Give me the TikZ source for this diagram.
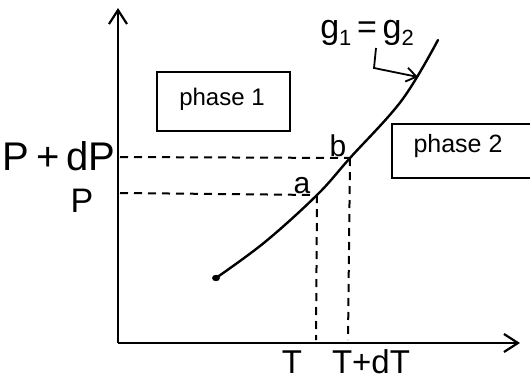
\documentclass[tikz,border=0pt]{standalone}
\usepackage{fontspec}
\setmainfont{Liberation Sans}
\usetikzlibrary{arrows.meta}
\tikzset{
  axis/.style={line width=2.2pt, -{Straight Barb[length=14pt,width=18pt,line width=2.2pt]}},
  guide/.style={line width=2pt, dash pattern=on 8pt off 6pt},
  curveline/.style={line width=2.4pt, line cap=round},
  boxline/.style={line width=1.8pt},
  lbl/.style={inner sep=0pt, font=\fontsize{#1}{#1}\selectfont},
}
\newcommand{\gsub}[1]{\raisebox{-7pt}{\fontsize{22pt}{22pt}\selectfont #1}}
\begin{document}
\begin{tikzpicture}[x=1pt,y=-1pt]
\useasboundingbox (0,0) rectangle (530,381);
% axes
\coordinate (O) at (118,343);
\coordinate (Ytop) at (118,8);
\coordinate (Xend) at (520,343);
\draw[axis] (O) -- (Ytop);
\draw[axis] (O) -- (Xend);
% points on the curve
\coordinate (a) at (317,195);
\coordinate (b) at (350,158);
\coordinate (start) at (216,278);
\coordinate (top) at (438,40);
% curve
\draw[curveline] plot[smooth, tension=0.6] coordinates {(216,278) (265,242) (317,195) (350,158) (402,100) (438,40)};
\fill (start) ellipse (4pt and 3.2pt);
% dashed guides
\coordinate (yP) at (120,193);
\coordinate (yPdP) at (120,157);
\coordinate (xT) at (316,340);
\coordinate (xTdT) at (348,340);
\draw[guide] (yPdP) -- (b);
\draw[guide] (yP) -- (a);
\draw[guide] (a) -- (xT);
\draw[guide] (b) -- (xTdT);
% axis labels
\node[lbl=40pt] (PdP) at (59,156) {P\,+\,dP};
\node[lbl=34pt] (P) at (82,201) {P};
\node[lbl=33pt] (T) at (292,362) {T};
\node[lbl=33pt] (TdT) at (371,362) {T+dT};
\node[lbl=30pt] (alab) at (302,186) {a};
\node[lbl=30pt] (blab) at (338,146) {b};
% phase boxes
\draw[boxline] (157,72) rectangle (290,131);
\node[lbl=24pt] (ph1) at (222,99) {phase 1};
\draw[boxline] (531,124) -- (392,124) -- (392,178) -- (531,178);
\node[lbl=25pt] (ph2) at (458,146) {phase 2};
% g1 = g2 label and arrow
\node[lbl=34pt] (g) at (367,33) {g\gsub{1}\,=\,g\gsub{2}};
\coordinate (gA) at (376,48);
\coordinate (gB) at (374,68);
\coordinate (gC) at (418,77);
\draw[line width=1.8pt, -{Straight Barb[length=10pt,width=14pt,line width=1.8pt]}] (gA) -- (gB) -- (gC);
\end{tikzpicture}
\end{document}
